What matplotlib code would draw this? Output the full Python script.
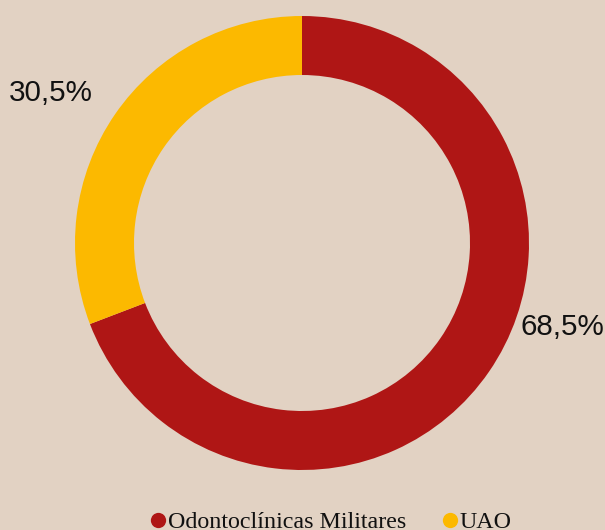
import matplotlib
matplotlib.use("Agg")
import matplotlib.pyplot as plt
from matplotlib.lines import Line2D

# data
categories = ["Odontoclínicas Militares", "UAO"]
values = [68.5, 30.5]
labels = ["68,5%", "30,5%"]
colors = ["#AF1615", "#FCB900"]
bg = "#E2D2C3"

W, H = 605, 530
fig = plt.figure(figsize=(W / 100, H / 100), dpi=100, facecolor=bg)

# donut axes: center (302, 243), outer radius 227 px
r = 227
cx, cy = 302, 243
ax = fig.add_axes([(cx - r) / W, (H - cy - r) / H, 2 * r / W, 2 * r / H])
ax.set_facecolor(bg)
ax.pie(values, colors=colors, startangle=90, counterclock=False,
       radius=1.0, wedgeprops=dict(width=1 - 168 / 227, linewidth=0))
ax.set_xlim(-1, 1)
ax.set_ylim(-1, 1)
ax.axis("off")

# outside labels
fig.text(562 / W, 1 - 327 / H, labels[0], fontsize=21.3, family="Liberation Sans",
         color="#111111", ha="center", va="center")
fig.text(51 / W, 1 - 93 / H, labels[1], fontsize=21.3, family="Liberation Sans",
         color="#111111", ha="center", va="center")

# legend
handles = [Line2D([0], [0], marker="o", linestyle="none", markersize=11,
                  markerfacecolor=c, markeredgewidth=0) for c in colors]
leg = fig.legend(handles, categories, loc="center", ncol=2,
                 bbox_to_anchor=(0.548, 1 - 522 / H), frameon=False,
                 handlelength=0.55, handletextpad=0.12, columnspacing=1.55,
                 prop={"family": "Liberation Serif", "size": 17.3})
for t in leg.get_texts():
    t.set_color("#111111")

fig.savefig("out.png", dpi=100, facecolor=bg)
